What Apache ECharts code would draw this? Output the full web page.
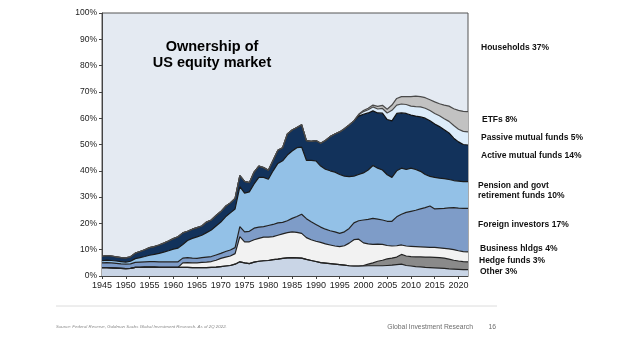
<!DOCTYPE html>
<html>
<head>
<meta charset="utf-8">
<script src="https://cdn.jsdelivr.net/npm/echarts@6/dist/echarts.min.js"></script>
<style>
html,body{margin:0;padding:0;background:#fff;}
#c{width:624px;height:342px;}
</style>
</head>
<body>
<div id="c"></div>
<script>
// Years (annual, last point = mid-2021 right edge of chart)
const years = [1945,1946,1947,1948,1949,1950,1951,1952,1953,1954,
1955,1956,1957,1958,1959,1960,1961,1962,1963,1964,
1965,1966,1967,1968,1969,1970,1971,1972,1973,1974,
1975,1976,1977,1978,1979,1980,1981,1982,1983,1984,
1985,1986,1987,1988,1989,1990,1991,1992,1993,1994,
1995,1996,1997,1998,1999,2000,2001,2002,2003,2004,
2005,2006,2007,2008,2009,2010,2011,2012,2013,2014,
2015,2016,2017,2018,2019,2020,2021,2021.5];

// Layer thickness (% of US equity market), bottom to top
const other = [3.2,3.2,3.1,3.0,2.9,2.8,2.9,3.3,3.3,3.4,
3.4,3.4,3.3,3.3,3.3,3.3,3.3,3.3,3.3,3.2,
3.2,3.2,3.2,3.3,3.4,3.6,3.8,4.0,4.5,5.4,
5.0,4.7,5.3,5.6,5.8,5.9,6.2,6.4,6.7,6.9,
7.0,6.9,6.8,6.3,5.9,5.5,5.1,4.9,4.7,4.5,
4.3,4.1,3.9,3.8,3.8,3.8,3.9,3.9,3.9,3.9,
4.0,4.1,4.3,4.5,4.0,3.8,3.6,3.5,3.3,3.2,
3.1,3.0,2.9,2.7,2.6,2.5,2.4,2.4];

const hedgeFunds = [0,0,0,0,0,0,0,0,0,0,
0,0,0,0,0,0,0,0,0,0,
0,0,0,0,0,0,0,0,0,0,
0,0,0,0,0,0,0,0,0,0,
0,0,0,0,0,0,0,0,0,0,
0,0,0,0,0,0.2,0.6,1.1,1.7,2.1,
2.5,2.7,2.9,3.7,3.6,3.6,3.7,3.8,3.9,4.0,
4.0,4.0,3.9,3.7,3.4,3.2,3.1,3.0];

const businessHldgs = [0,0,0,0,0,0,0,0,0,0,
0,0,0,0,0,0,0,1.7,1.8,1.8,
1.8,2.0,2.1,2.2,2.6,3.1,3.4,3.6,4.0,9.6,
8.0,8.3,8.5,8.7,9.0,8.9,8.8,9.1,9.3,9.6,
9.8,9.7,9.4,8.3,7.9,7.7,7.7,7.3,7.1,6.9,
6.9,7.4,8.6,10.0,10.2,8.6,7.7,7.0,6.5,6.0,
5.1,4.6,4.3,3.6,3.8,3.9,3.9,3.8,3.8,3.7,
3.8,3.7,3.7,3.9,4.0,3.9,3.8,3.8];

const foreignInvestors = [1.8,1.9,1.9,1.8,1.7,1.7,1.7,1.9,2.0,2.0,
2.1,2.1,2.1,2.1,2.1,2.1,2.1,1.8,1.9,1.8,
1.7,1.8,1.9,1.9,2.0,1.9,2.1,2.3,2.3,3.8,
3.8,4.0,4.4,4.3,4.0,4.4,4.6,4.7,4.4,4.5,
5.1,6.0,7.3,7.2,6.8,6.4,5.8,5.6,5.4,5.4,
5.0,5.3,5.6,6.4,7.0,8.7,9.3,9.9,9.5,9.3,
9.2,9.4,11.0,11.7,12.8,13.3,13.8,14.4,15.0,15.7,
14.6,14.9,15.2,15.6,16.0,16.2,16.4,16.5];

const pensionFunds = [0.8,0.9,0.9,0.9,0.9,0.8,1.0,1.4,1.7,2.0,
2.4,2.7,3.2,3.7,4.2,4.8,5.2,5.2,6.5,7.5,
8.2,8.5,9.3,10.1,11.0,11.9,13.2,14.1,14.7,15.2,
14.7,15.0,16.8,18.9,18.7,17.6,20.4,22.6,23.4,25.0,
25.6,26.2,25.5,22.2,23.4,24.2,23.2,22.8,22.8,22.7,
22.4,21.2,19.7,17.8,17.6,17.9,18.8,20.1,19.4,19.0,
17.7,16.7,17.5,17.5,16.3,16.4,15.5,14.3,12.6,11.3,
12.0,11.6,11.3,10.8,10.3,10.3,10.2,10.2];

const activeFunds = [1.7,1.8,1.7,1.6,1.5,1.6,1.7,2.1,2.3,2.6,
2.9,3.0,3.2,3.4,3.7,4.0,4.3,4.4,3.5,3.5,
3.5,3.5,4.0,3.8,4.0,4.0,4.0,3.8,4.0,4.2,
4.5,3.5,4.5,4.3,3.7,3.4,4.0,5.0,5.0,8.0,
8.0,7.7,8.5,7.5,7.2,7.7,8.7,10.9,13.0,14.5,
16.2,18.0,19.6,21.0,22.2,22.3,21.7,20.8,21.0,21.6,
21.0,21.5,21.8,21.0,21.3,20.2,20.3,20.7,21.4,21.1,
20.3,19.6,18.6,17.7,16.1,14.9,14.1,13.9];

const passiveFunds = [0,0,0,0,0,0,0,0,0,0,
0,0,0,0,0,0,0,0,0,0,
0,0,0,0,0,0,0,0,0,0,
0,0,0,0,0,0,0,0,0,0,
0,0,0,0,0,0,0,0,0,0,
0,0,0,0,0.5,1.0,1.2,1.5,1.5,1.8,
2.5,4.0,3.2,3.4,3.4,3.4,3.6,3.8,3.8,3.9,
4.0,4.1,4.2,4.4,4.8,4.8,5.0,5.0];

const etfs = [0,0,0,0,0,0,0,0,0,0,
0,0,0,0,0,0,0,0,0,0,
0,0,0,0,0,0,0,0,0,0,
0,0,0,0,0,0,0,0,0,0,
0,0,0,0,0,0,0,0,0,0,
0,0,0,0,0.2,0.4,0.6,0.7,1.0,1.2,
1.4,2.0,2.5,2.8,3.0,3.6,4.0,3.9,4.0,4.1,
4.4,4.6,5.2,5.8,6.4,7.2,7.6,7.7];

const seriesNames = ['Other','Hedge funds','Business hldgs','Foreign investors',
  'Pension and govt retirement funds','Active mutual funds','Passive mutual funds','ETFs'];
const seriesData = [other, hedgeFunds, businessHldgs, foreignInvestors,
  pensionFunds, activeFunds, passiveFunds, etfs];
const seriesColors = ['#c9d5e6','#8a8a8a','#f2f2f2','#7e9cc8','#93c1e7','#12325b','#dcecfa','#c2c2c2'];
const lineColors = ['#222222','#222222','#222222','#222222','#1a1a1a','#111111','#4a4a4a','#4a4a4a'];

const labelTexts = [
  {t:'Households 37%', x:481, y:48},
  {t:'ETFs 8%', x:482, y:120},
  {t:'Passive mutual funds 5%', x:481, y:137.5},
  {t:'Active mutual funds 14%', x:481, y:155.5},
  {t:'Pension and govt', x:478, y:186},
  {t:'retirement funds 10%', x:478, y:195.5},
  {t:'Foreign investors 17%', x:478, y:224.5},
  {t:'Business hldgs 4%', x:480, y:248.5},
  {t:'Hedge funds 3%', x:479, y:260.5},
  {t:'Other 3%', x:480, y:272}
];

const FONT = '"Liberation Sans", Arial, sans-serif';

const chart = echarts.init(document.getElementById('c'), null, {renderer:'canvas'});

const series = seriesData.map((arr, i) => ({
  name: seriesNames[i],
  type: 'line',
  stack: 'own',
  symbol: 'none',
  showSymbol: false,
  data: arr,
  lineStyle: {color: lineColors[i], width: 1.2},
  areaStyle: {color: seriesColors[i], opacity: 1},
  itemStyle: {color: seriesColors[i]}
}));

const graphics = labelTexts.map(l => ({
  type: 'text', x: l.x, y: l.y, z: 100,
  style: {text: l.t, font: 'bold 8.5px ' + FONT, fill: '#111', align: 'left', verticalAlign: 'middle'}
}));
graphics.push({
  type: 'text', x: 212, y: 46.5, z: 100,
  style: {text: 'Ownership of', font: 'bold 14.5px ' + FONT, fill: '#000', align: 'center', verticalAlign: 'middle'}
});
graphics.push({
  type: 'text', x: 212, y: 63, z: 100,
  style: {text: 'US equity market', font: 'bold 14.5px ' + FONT, fill: '#000', align: 'center', verticalAlign: 'middle'}
});
graphics.push({
  type: 'line', z: 100,
  shape: {x1: 56, y1: 306, x2: 497, y2: 306},
  style: {stroke: '#dcdcdc', lineWidth: 1}
});
graphics.push({
  type: 'text', x: 56, y: 327, z: 100,
  style: {text: 'Source: Federal Reserve, Goldman Sachs Global Investment Research. As of 2Q 2022.',
    font: 'italic 4.4px ' + FONT, fill: '#8a8a8a', align: 'left', verticalAlign: 'middle'}
});
graphics.push({
  type: 'text', x: 473, y: 327, z: 100,
  style: {text: 'Global Investment Research', font: '6.8px ' + FONT, fill: '#6e6e6e', align: 'right', verticalAlign: 'middle'}
});
graphics.push({
  type: 'text', x: 496, y: 327, z: 100,
  style: {text: '16', font: '6.8px ' + FONT, fill: '#6e6e6e', align: 'right', verticalAlign: 'middle'}
});

const showYear = (idx, val) => Number(val) % 5 === 0;

chart.setOption({
  animation: false,
  backgroundColor: '#ffffff',
  grid: {
    left: 102, right: 156, top: 13, bottom: 66,
    show: true, backgroundColor: '#e4eaf2', borderColor: '#555', borderWidth: 1
  },
  xAxis: {
    type: 'category', data: years.map(String), boundaryGap: false,
    axisLine: {show: true, lineStyle: {color: '#444', width: 1}},
    axisTick: {show: true, length: 3, interval: showYear, lineStyle: {color: '#444'}},
    splitLine: {show: false},
    axisLabel: {color: '#222', fontSize: 9, fontFamily: FONT, margin: 5, interval: showYear}
  },
  yAxis: {
    type: 'value', min: 0, max: 100, interval: 10,
    axisLine: {show: true, lineStyle: {color: '#444', width: 1}},
    axisTick: {show: true, length: 3, lineStyle: {color: '#444'}},
    splitLine: {show: false},
    axisLabel: {color: '#222', fontSize: 8.5, fontFamily: FONT, margin: 5, formatter: '{value}%'}
  },
  series: series,
  graphic: graphics
});
</script>
</body>
</html>
